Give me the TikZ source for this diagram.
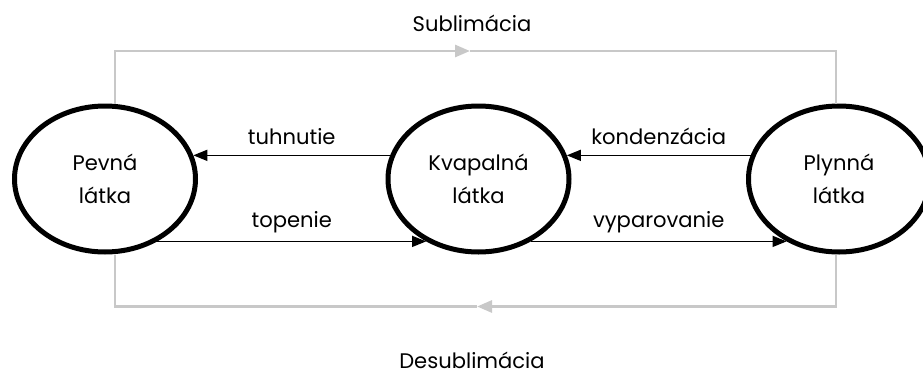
\documentclass[tikz,border=0pt]{standalone}
\usepackage{fontspec}
\setmainfont{Poppins}
\usetikzlibrary{shapes.geometric,arrows.meta}
\definecolor{phaseline}{HTML}{C8C8C8}

\begin{document}
\begin{tikzpicture}[
    state/.style={ellipse, draw=black, line width=0.1cm, inner sep=0pt,
      minimum width=3.62cm, minimum height=2.92cm, align=center,
      font=\fontsize{12}{18.8}\selectfont},
    trans/.style={draw=black, line width=0.8pt,
      -{Triangle[length=0.28cm, width=0.22cm]}},
    phase/.style={draw=phaseline, line width=1.6pt},
    phasetip/.style={phase, -{Triangle[length=0.3cm, width=0.24cm]}},
    lbl/.style={font=\fontsize{12}{14}\selectfont, inner sep=0pt},
  ]
  \clip (0,0) rectangle (18.46,7.52);

  % ================= the three states
  \node[state] (pevna)    at (2.10,3.94)  {Pevná\\látka};
  \node[state] (kvapalna) at (9.57,3.94)  {Kvapalná\\látka};
  \node[state] (plynna)   at (16.78,3.94) {Plynná\\látka};

  % ================= direct transitions (gray loop around the row)
  \coordinate (sublmid)   at (9.40,6.50);
  \coordinate (desublmid) at (9.54,1.39);
  \draw[phasetip] ([xshift=2mm]pevna.north) |- (sublmid);
  \draw[phase] (sublmid) -| ([xshift=-0.6mm]plynna.north);
  \draw[phasetip] ([xshift=-0.6mm]plynna.south) |- (desublmid);
  \draw[phase] (desublmid) -| ([xshift=2mm]pevna.south);
  \node[lbl, anchor=base] (subl)   at (9.44,6.90) {Sublimácia};
  \node[lbl, anchor=base] (desubl) at (9.44,0.15) {Desublimácia};

  % ================= neighbour transitions
  \draw[trans] (kvapalna.165) -- (pevna.15)
    node[lbl, midway, anchor=base, yshift=0.22cm] {tuhnutie};
  \draw[trans] (pevna.-50) -- (kvapalna.-130)
    node[lbl, midway, anchor=base, yshift=0.27cm] {topenie};
  \draw[trans] (plynna.165) -- (kvapalna.15)
    node[lbl, midway, anchor=base, yshift=0.22cm] {kondenzácia};
  \draw[trans] (kvapalna.-50) -- (plynna.-130)
    node[lbl, midway, anchor=base, yshift=0.27cm] {vyparovanie};
\end{tikzpicture}
\end{document}
